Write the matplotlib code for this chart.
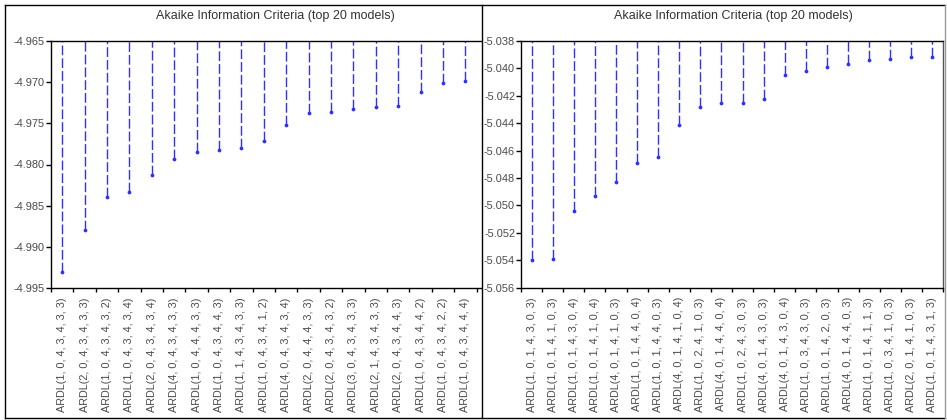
import numpy as np
import matplotlib
matplotlib.use("Agg")
import matplotlib.pyplot as plt
from matplotlib.lines import Line2D

plt.rcParams["font.family"] = ["Liberation Sans", "DejaVu Sans"]

W, H = 947, 420
BLUE, TXT = "#3030ff", "#4a4a4a"
TITLE = "Akaike Information Criteria (top 20 models)"

# left panel (cropped on the right in the source: 19 of 20 models visible)
left_models = [
    "ARDL(1, 0, 4, 3, 4, 3, 3)", "ARDL(2, 0, 4, 3, 4, 3, 3)", "ARDL(1, 0, 4, 3, 4, 3, 2)",
    "ARDL(1, 0, 4, 3, 4, 3, 4)", "ARDL(2, 0, 4, 3, 4, 3, 4)", "ARDL(4, 0, 4, 3, 4, 3, 3)",
    "ARDL(1, 0, 4, 4, 4, 3, 3)", "ARDL(1, 0, 4, 3, 4, 4, 3)", "ARDL(1, 1, 4, 3, 4, 3, 3)",
    "ARDL(1, 0, 4, 3, 4, 1, 2)", "ARDL(4, 0, 4, 3, 4, 3, 4)", "ARDL(2, 0, 4, 4, 4, 3, 3)",
    "ARDL(2, 0, 4, 3, 4, 3, 2)", "ARDL(3, 0, 4, 3, 4, 3, 3)", "ARDL(2, 1, 4, 3, 4, 3, 3)",
    "ARDL(2, 0, 4, 3, 4, 4, 3)", "ARDL(1, 0, 4, 3, 4, 4, 2)", "ARDL(1, 0, 4, 3, 4, 2, 2)",
    "ARDL(1, 0, 4, 3, 4, 4, 4)",
]
left_aic = [-4.9930, -4.9879, -4.9840, -4.9834, -4.9813, -4.9793, -4.9785, -4.9782,
            -4.9780, -4.9772, -4.9752, -4.9737, -4.9736, -4.9733, -4.9730, -4.9729,
            -4.9712, -4.9701, -4.9699]
left_ticks = [-4.965, -4.970, -4.975, -4.980, -4.985, -4.990, -4.995]

right_models = [
    "ARDL(1, 0, 1, 4, 3, 0, 3)", "ARDL(1, 0, 1, 4, 1, 0, 3)", "ARDL(1, 0, 1, 4, 3, 0, 4)",
    "ARDL(1, 0, 1, 4, 1, 0, 4)", "ARDL(4, 0, 1, 4, 1, 0, 3)", "ARDL(1, 0, 1, 4, 4, 0, 4)",
    "ARDL(1, 0, 1, 4, 4, 0, 3)", "ARDL(4, 0, 1, 4, 1, 0, 4)", "ARDL(1, 0, 2, 4, 1, 0, 3)",
    "ARDL(4, 0, 1, 4, 4, 0, 4)", "ARDL(1, 0, 2, 4, 3, 0, 3)", "ARDL(4, 0, 1, 4, 3, 0, 3)",
    "ARDL(4, 0, 1, 4, 3, 0, 4)", "ARDL(1, 0, 3, 4, 3, 0, 3)", "ARDL(1, 0, 1, 4, 2, 0, 3)",
    "ARDL(4, 0, 1, 4, 4, 0, 3)", "ARDL(1, 0, 1, 4, 1, 1, 3)", "ARDL(1, 0, 3, 4, 1, 0, 3)",
    "ARDL(2, 0, 1, 4, 1, 0, 3)", "ARDL(1, 0, 1, 4, 3, 1, 3)",
]
right_aic = [-5.0540, -5.0539, -5.0504, -5.0493, -5.0483, -5.0469, -5.0465, -5.0441,
             -5.0428, -5.0425, -5.0425, -5.0422, -5.0405, -5.0402, -5.0399, -5.0397,
             -5.0394, -5.0393, -5.0392, -5.0392]
right_ticks = [-5.038, -5.040, -5.042, -5.044, -5.046, -5.048, -5.050, -5.052, -5.054, -5.056]


def px_axes(fig, x0, x1, ytop, ybot):
    return fig.add_axes([x0 / W, 1 - ybot / H, (x1 - x0) / W, (ybot - ytop) / H])


def stem_panel(ax, models, vals, yticks, xmax):
    x = np.arange(len(models))
    top, bot = yticks[0], yticks[-1]
    ax.vlines(x, vals, top, colors=BLUE, linestyles=(0, (7, 2.2)), lw=1.0)
    ax.plot(x, vals, "o", ms=1.7, color=BLUE, mec=BLUE)
    ax.set_ylim(bot, top)
    ax.set_xlim(-0.5, xmax)
    ax.set_yticks(yticks)
    ax.set_yticklabels([f"{t:.3f}" for t in yticks], fontsize=7.9, color=TXT)
    ax.set_xticks(np.arange(len(models) + 1) - 0.5)
    ax.set_xticklabels([])
    ax.set_xticks(x, minor=True)
    ax.set_xticklabels(models, minor=True, rotation=90, fontsize=7.8, color=TXT, va="top")
    ax.tick_params(axis="x", which="minor", length=0, pad=7)
    ax.tick_params(axis="x", which="major", length=3.2, width=1, direction="out")
    ax.tick_params(axis="y", length=3.3, width=1, direction="out", pad=1.0)
    for s in ax.spines.values():
        s.set_linewidth(1.0)


fig = plt.figure(figsize=(W / 100, H / 100), dpi=100)

axl = px_axes(fig, 51, 481, 41, 288)
stem_panel(axl, left_models, left_aic, left_ticks, -0.5 + 430 / 22.4)
axl.spines["right"].set_visible(False)

axr = px_axes(fig, 521, 943, 41, 287.5)
stem_panel(axr, right_models, right_aic, right_ticks, 19.5)
axr.spines["right"].set_color("#555555")

fig.text(275 / W, 1 - 16 / H, TITLE, ha="center", va="center", fontsize=9, color="#333333")
fig.text(733 / W, 1 - 16 / H, TITLE, ha="center", va="center", fontsize=9, color="#333333")

# outer frames of the two screenshots
def fline(xs, ys, color="black", lw=1.0):
    fig.add_artist(Line2D([v / W for v in xs], [1 - v / H for v in ys], color=color, lw=lw))

fline([5, 945], [5, 5])
fline([5, 5], [5, 418])
fline([5, 945], [418, 418])
fline([481.5, 481.5], [5, 418])
fline([945, 945], [5, 418], color="#999999")

fig.savefig("out.png", dpi=100)
